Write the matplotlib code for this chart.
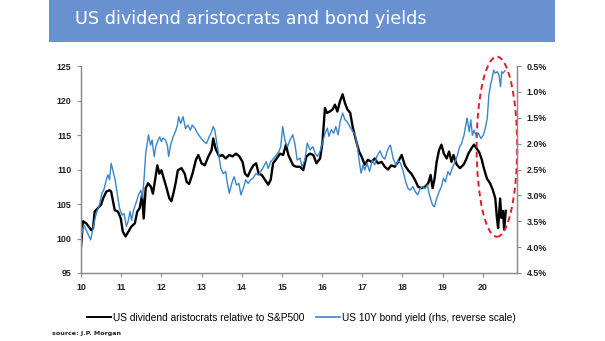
import matplotlib
matplotlib.use("Agg")
import matplotlib.pyplot as plt
from matplotlib.patches import Ellipse, Rectangle
from matplotlib.ticker import FuncFormatter, FixedLocator
from matplotlib.lines import Line2D

# ---- data ----
black_years = [10.00, 10.05, 10.13, 10.26, 10.30, 10.34, 10.42, 10.50, 10.55, 10.63, 10.71, 10.75,
               10.84, 10.92, 10.99, 11.04, 11.11, 11.16, 11.25, 11.34, 11.40, 11.46, 11.52, 11.56,
               11.61, 11.67, 11.74, 11.79, 11.85, 11.90, 11.95, 12.00, 12.06, 12.12, 12.20, 12.25,
               12.31, 12.36, 12.41, 12.50, 12.58, 12.63, 12.69, 12.77, 12.86, 12.92, 13.00, 13.08,
               13.17, 13.25, 13.29, 13.35, 13.44, 13.52, 13.60, 13.69, 13.77, 13.86, 13.94, 14.02,
               14.08, 14.15, 14.22, 14.29, 14.36, 14.42, 14.50, 14.58, 14.66, 14.72, 14.78, 14.87,
               14.95, 15.03, 15.10, 15.16, 15.20, 15.28, 15.36, 15.45, 15.53, 15.61, 15.70, 15.78,
               15.86, 15.95, 16.01, 16.07, 16.12, 16.19, 16.26, 16.32, 16.38, 16.44, 16.51, 16.57,
               16.63, 16.70, 16.76, 16.84, 16.92, 16.98, 17.06, 17.14, 17.23, 17.31, 17.39, 17.48,
               17.56, 17.64, 17.72, 17.81, 17.89, 17.98, 18.06, 18.14, 18.22, 18.31, 18.39, 18.47,
               18.56, 18.64, 18.70, 18.75, 18.80, 18.85, 18.91, 18.97, 19.03, 19.10, 19.16, 19.22,
               19.27, 19.35, 19.43, 19.52, 19.58, 19.64, 19.72, 19.78, 19.84, 19.91, 19.97, 20.02,
               20.10, 20.18, 20.25, 20.31, 20.35, 20.38, 20.43, 20.46, 20.50, 20.53, 20.57]
black_values = [98.8, 102.5, 102.2, 101.2, 101.5, 103.9, 104.4, 104.9, 105.8, 106.8, 107.0, 106.8,
                104.1, 103.9, 102.9, 101.0, 100.3, 100.8, 101.7, 102.2, 103.9, 104.4, 106.3, 102.9,
                107.3, 108.0, 107.5, 106.5, 108.7, 110.6, 109.4, 109.9, 108.7, 107.5, 105.8, 105.4,
                106.8, 108.2, 109.9, 110.2, 109.4, 108.2, 107.9, 109.3, 111.4, 112.1, 110.9, 110.6,
                111.9, 112.8, 114.5, 113.0, 111.9, 112.1, 111.6, 112.1, 111.9, 112.3, 111.9, 111.1,
                109.4, 109.0, 109.9, 110.6, 110.9, 109.4, 109.2, 108.5, 107.8, 108.5, 110.9, 111.6,
                112.3, 112.1, 113.6, 112.1, 111.6, 110.6, 110.4, 110.4, 109.9, 111.9, 112.3, 112.1,
                110.9, 111.6, 114.0, 118.9, 118.2, 118.4, 118.7, 119.4, 118.4, 119.8, 120.9, 119.6,
                118.7, 118.2, 116.2, 114.3, 112.6, 111.9, 110.7, 111.4, 111.1, 111.6, 110.9, 111.1,
                110.4, 110.0, 110.6, 110.4, 111.1, 112.1, 110.6, 109.9, 109.4, 108.5, 107.5, 107.3,
                107.5, 108.0, 109.2, 107.3, 108.7, 111.1, 112.8, 113.6, 112.3, 111.6, 112.6, 111.1,
                112.1, 110.7, 110.2, 110.7, 111.4, 112.3, 113.1, 113.6, 113.1, 112.5, 111.5, 110.3,
                108.7, 108.0, 107.0, 105.8, 103.0, 101.5, 105.8, 103.0, 104.0, 101.3, 104.0]

blue_years = [10.01, 10.07, 10.13, 10.19, 10.24, 10.30, 10.36, 10.41, 10.46, 10.52, 10.57, 10.63,
              10.67, 10.71, 10.75, 10.79, 10.85, 10.90, 10.96, 11.02, 11.07, 11.13, 11.17, 11.22,
              11.26, 11.31, 11.38, 11.43, 11.49, 11.53, 11.57, 11.61, 11.65, 11.68, 11.73, 11.77,
              11.82, 11.86, 11.92, 11.96, 12.00, 12.04, 12.10, 12.15, 12.18, 12.23, 12.29, 12.35,
              12.40, 12.43, 12.48, 12.54, 12.60, 12.66, 12.72, 12.77, 12.84, 12.90, 12.99, 13.06,
              13.12, 13.19, 13.25, 13.29, 13.33, 13.39, 13.44, 13.48, 13.54, 13.60, 13.65, 13.69,
              13.75, 13.81, 13.87, 13.93, 13.98, 14.04, 14.10, 14.16, 14.22, 14.28, 14.35, 14.42,
              14.47, 14.54, 14.61, 14.66, 14.72, 14.79, 14.86, 14.92, 14.97, 15.02, 15.08, 15.14,
              15.20, 15.27, 15.32, 15.38, 15.45, 15.50, 15.57, 15.63, 15.70, 15.77, 15.83, 15.88,
              15.95, 16.01, 16.07, 16.13, 16.17, 16.23, 16.29, 16.34, 16.40, 16.45, 16.51, 16.57,
              16.62, 16.69, 16.76, 16.82, 16.88, 16.92, 16.97, 17.02, 17.06, 17.12, 17.18, 17.25,
              17.31, 17.36, 17.44, 17.50, 17.56, 17.62, 17.67, 17.70, 17.77, 17.84, 17.89, 17.95,
              18.01, 18.08, 18.14, 18.19, 18.26, 18.32, 18.38, 18.44, 18.50, 18.56, 18.62, 18.67,
              18.75, 18.80, 18.84, 18.91, 18.97, 19.02, 19.07, 19.13, 19.18, 19.25, 19.31, 19.37,
              19.42, 19.47, 19.53, 19.59, 19.61, 19.66, 19.70, 19.74, 19.78, 19.84, 19.89, 19.95,
              20.01, 20.06, 20.11, 20.15, 20.19, 20.23, 20.27, 20.31, 20.36, 20.40, 20.44, 20.47,
              20.50, 20.55]
blue_yields = [3.77, 3.57, 3.67, 3.77, 3.86, 3.64, 3.41, 3.28, 3.18, 2.96, 2.89, 2.70,
               2.60, 2.70, 2.38, 2.51, 2.70, 2.96, 3.25, 3.38, 3.35, 3.60, 3.51, 3.31,
               3.48, 3.28, 3.12, 2.99, 2.90, 3.05, 2.67, 2.19, 1.99, 1.83, 2.03, 1.93,
               2.25, 2.06, 1.93, 1.87, 1.96, 1.89, 1.93, 2.03, 2.25, 2.03, 1.87, 1.77,
               1.64, 1.48, 1.61, 1.48, 1.71, 1.64, 1.74, 1.64, 1.71, 1.80, 1.90, 1.96,
               2.00, 1.87, 1.77, 1.67, 1.74, 2.03, 2.28, 2.48, 2.58, 2.54, 2.80, 2.96,
               2.77, 2.64, 2.80, 2.77, 2.99, 2.86, 2.70, 2.77, 2.70, 2.67, 2.58, 2.61,
               2.54, 2.45, 2.35, 2.48, 2.35, 2.29, 2.22, 2.16, 2.06, 1.67, 1.96, 2.06,
               1.93, 1.83, 1.99, 2.32, 2.28, 2.44, 2.32, 1.99, 2.12, 2.06, 2.19, 2.25,
               2.15, 1.99, 1.80, 1.70, 1.86, 1.73, 1.80, 1.67, 1.83, 1.57, 1.41, 1.54,
               1.57, 1.67, 1.76, 1.83, 2.06, 2.32, 2.57, 2.41, 2.51, 2.38, 2.54, 2.32,
               2.41, 2.25, 2.14, 2.25, 2.30, 2.15, 2.06, 2.03, 2.29, 2.42, 2.32, 2.38,
               2.51, 2.74, 2.87, 2.90, 2.83, 2.93, 2.99, 2.87, 2.83, 2.87, 2.80, 2.99,
               3.19, 3.22, 3.09, 2.93, 2.83, 2.67, 2.74, 2.54, 2.61, 2.45, 2.35, 2.22,
               2.06, 2.00, 1.84, 1.58, 1.51, 1.77, 1.54, 1.84, 1.74, 1.87, 1.80, 1.90,
               1.84, 1.71, 1.51, 1.06, 0.87, 0.74, 0.58, 0.64, 0.61, 0.67, 0.90, 0.61,
               0.64, 0.59]

x_ticks = list(range(10, 21))
x_tick_labels = [str(v) for v in x_ticks]
left_ticks = [95, 100, 105, 110, 115, 120, 125]
right_ticks = [0.5, 1.0, 1.5, 2.0, 2.5, 3.0, 3.5, 4.0, 4.5]

title_text = "US dividend aristocrats and bond yields"
black_label = "US dividend aristocrats relative to S&P500"
blue_label = "US 10Y bond yield (rhs, reverse scale)"
source_text = "source: J.P. Morgan"

# ---- figure ----
W, H = 605, 341
fig = plt.figure(figsize=(W / 100, H / 100), dpi=100)
fig.patch.set_facecolor("white")

# title banner
fig.patches.append(Rectangle((49 / W, 1 - 42 / H), (555 - 49) / W, 42 / H,
                             transform=fig.transFigure, facecolor="#6a91cf",
                             edgecolor="none", zorder=0))
fig.text(75 / W, 1 - 19 / H, title_text, color="white", fontsize=12.7,
         family="DejaVu Sans", va="center", ha="left")

ax = fig.add_axes([81 / W, 1 - 273 / H, (517 - 81) / W, (273 - 66) / H])
ax2 = ax.twinx()

grey = "#8c8c8c"

ax.plot(black_years, black_values, color="black", lw=1.7, zorder=3, solid_joinstyle="round")
ax2.plot(blue_years, blue_yields, color="#3a86c8", lw=1.0, zorder=2)

ax.set_xlim(10, 20.85)
ax.set_ylim(95, 125)
ax2.set_ylim(4.5, 0.5)

ax.xaxis.set_major_locator(FixedLocator(x_ticks))
ax.set_xticklabels(x_tick_labels)
ax.set_yticks(left_ticks)
ax2.set_yticks(right_ticks)
ax2.yaxis.set_major_formatter(FuncFormatter(lambda v, p: f"{v:.1f}%"))

for a in (ax, ax2):
    for s in a.spines.values():
        s.set_color(grey)
        s.set_linewidth(0.9)
    a.spines["top"].set_visible(False)
    a.tick_params(direction="out", length=3, width=0.8, color=grey, pad=4)
    for lab in a.get_xticklabels() + a.get_yticklabels():
        lab.set_fontfamily("Liberation Sans")
        lab.set_fontsize(6.4)
        lab.set_fontweight("bold")
        lab.set_color("#222222")

# red dashed ellipse
ell = Ellipse((20.35, 113.3), width=1.01, height=26.1, fill=False,
              edgecolor="#d8202a", lw=1.4, linestyle=(0, (3, 2)), clip_on=False, zorder=5)
ax.add_patch(ell)

# legend
handles = [Line2D([], [], color="black", lw=1.4), Line2D([], [], color="#3a86c8", lw=1.2)]
fig.legend(handles, [black_label, blue_label], loc="center", ncol=2,
           bbox_to_anchor=(301.5 / W, 1 - 318 / H), frameon=False,
           prop=dict(family="Liberation Sans", size=7.3),
           handlelength=2.4, handletextpad=0.2, columnspacing=1.1,
           borderpad=0.2, borderaxespad=0)

fig.text(52 / W, 1 - 334 / H, source_text, fontsize=4.6, weight="bold",
         family="DejaVu Sans", color="#222222", va="center", ha="left")

fig.savefig("out.png", dpi=100)
